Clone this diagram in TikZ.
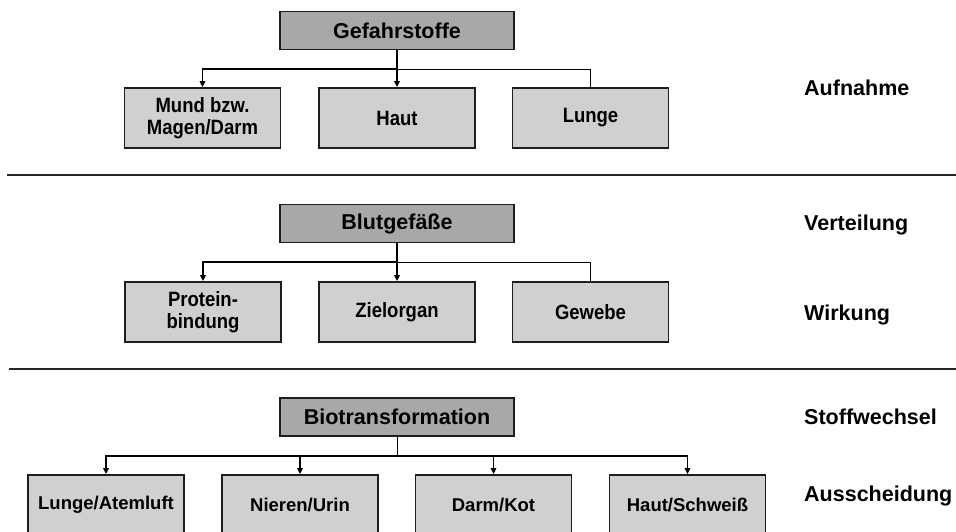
\documentclass[tikz,border=0pt]{standalone}
\usepackage{fontspec}
\setmainfont{Liberation Sans}
\usetikzlibrary{arrows.meta}
\definecolor{headgray}{RGB}{168,168,168}
\definecolor{leafgray}{RGB}{208,208,208}
\definecolor{edgegray}{RGB}{30,30,30}
\newcommand\vst[1]{\scalebox{1}[1.12]{#1}}
\begin{document}
\begin{tikzpicture}[x=1pt,y=-1pt,
  head/.style={draw=edgegray, line width=1.6pt, fill=headgray, minimum width=234pt,
    minimum height=38pt, inner sep=0pt, font=\bfseries\fontsize{21.5}{24}\selectfont},
  leaf/.style={draw=edgegray, line width=1.8pt, fill=leafgray, minimum width=156pt,
    minimum height=60pt, inner sep=0pt, align=center,
    font=\bfseries\fontsize{18.5}{21.5}\selectfont},
  lab/.style={anchor=base west, inner sep=0pt, font=\bfseries\fontsize{21.5}{24}\selectfont},
  conn/.style={draw=black, line width=1.4pt},
  thinconn/.style={draw=black, line width=0.9pt},
  arr/.style={-{Triangle[length=6pt,width=5.5pt]}},
  rulel/.style={draw=black!85, line width=2pt}]
\useasboundingbox (0,0) rectangle (956,531);
\clip (0,0) rectangle (956,531);

% section 1
\node[head] (g) at (397,30.5) {Gefahrstoffe};
\node[leaf] (m) at (202.5,118) {\vst{Mund bzw.}\\\vst{Magen/Darm}};
\node[leaf] (h) at (397,118) {\vst{Haut}};
\node[leaf] (l) at (590.5,118) {\vst{Lunge}};
\coordinate (j1) at (397,69);
\draw[conn] (g.south) -- (j1);
\draw[conn,arr] (j1) -| (m.north);
\draw[conn,arr] (j1) -- (h.north);
\draw[thinconn] (j1) -| (l.north);

% section 2
\node[head] (b) at (397,223.5) {Blutgefäße};
\node[leaf] (p) at (203,312) {\vst{Protein-}\\\vst{bindung}};
\node[leaf] (z) at (397,312) {\vst{Zielorgan}};
\node[leaf] (gw) at (590.5,312) {\vst{Gewebe}};
\coordinate (j2) at (397,262);
\draw[conn] (b.south) -- (j2);
\draw[conn,arr] (j2) -| (p.north);
\draw[conn,arr] (j2) -- (z.north);
\draw[thinconn] (j2) -| (gw.north);

% section 3
\node[head] (bt) at (397,417) {Biotransformation};
\node[leaf] (a1) at (106,505) {Lunge/Atemluft};
\node[leaf] (a2) at (300,505) {Nieren/Urin};
\node[leaf] (a3) at (493.5,505) {Darm/Kot};
\node[leaf] (a4) at (687.5,505) {Haut/Schweiß};
\coordinate (j3) at (397,456);
\draw[thinconn] (bt.south) -- (j3);
\draw[conn,arr] (j3) -| (a1.north);
\draw[conn,arr] (j3) -| (a2.north);
\draw[conn,arr] (j3) -| (a3.north);
\draw[conn,arr] (j3) -| (a4.north);

% separators
\draw[rulel] (7,174.7) -- (956,174.7);
\draw[rulel] (9,368.7) -- (956,368.7);

% stage labels
\node[lab] (t1) at (804,95.5) {Aufnahme};
\node[lab] (t2) at (804,230.5) {Verteilung};
\node[lab] (t3) at (804,320.5) {Wirkung};
\node[lab] (t4) at (804,424.5) {Stoffwechsel};
\node[lab] (t5) at (804,501.5) {Ausscheidung};
\end{tikzpicture}
\end{document}
